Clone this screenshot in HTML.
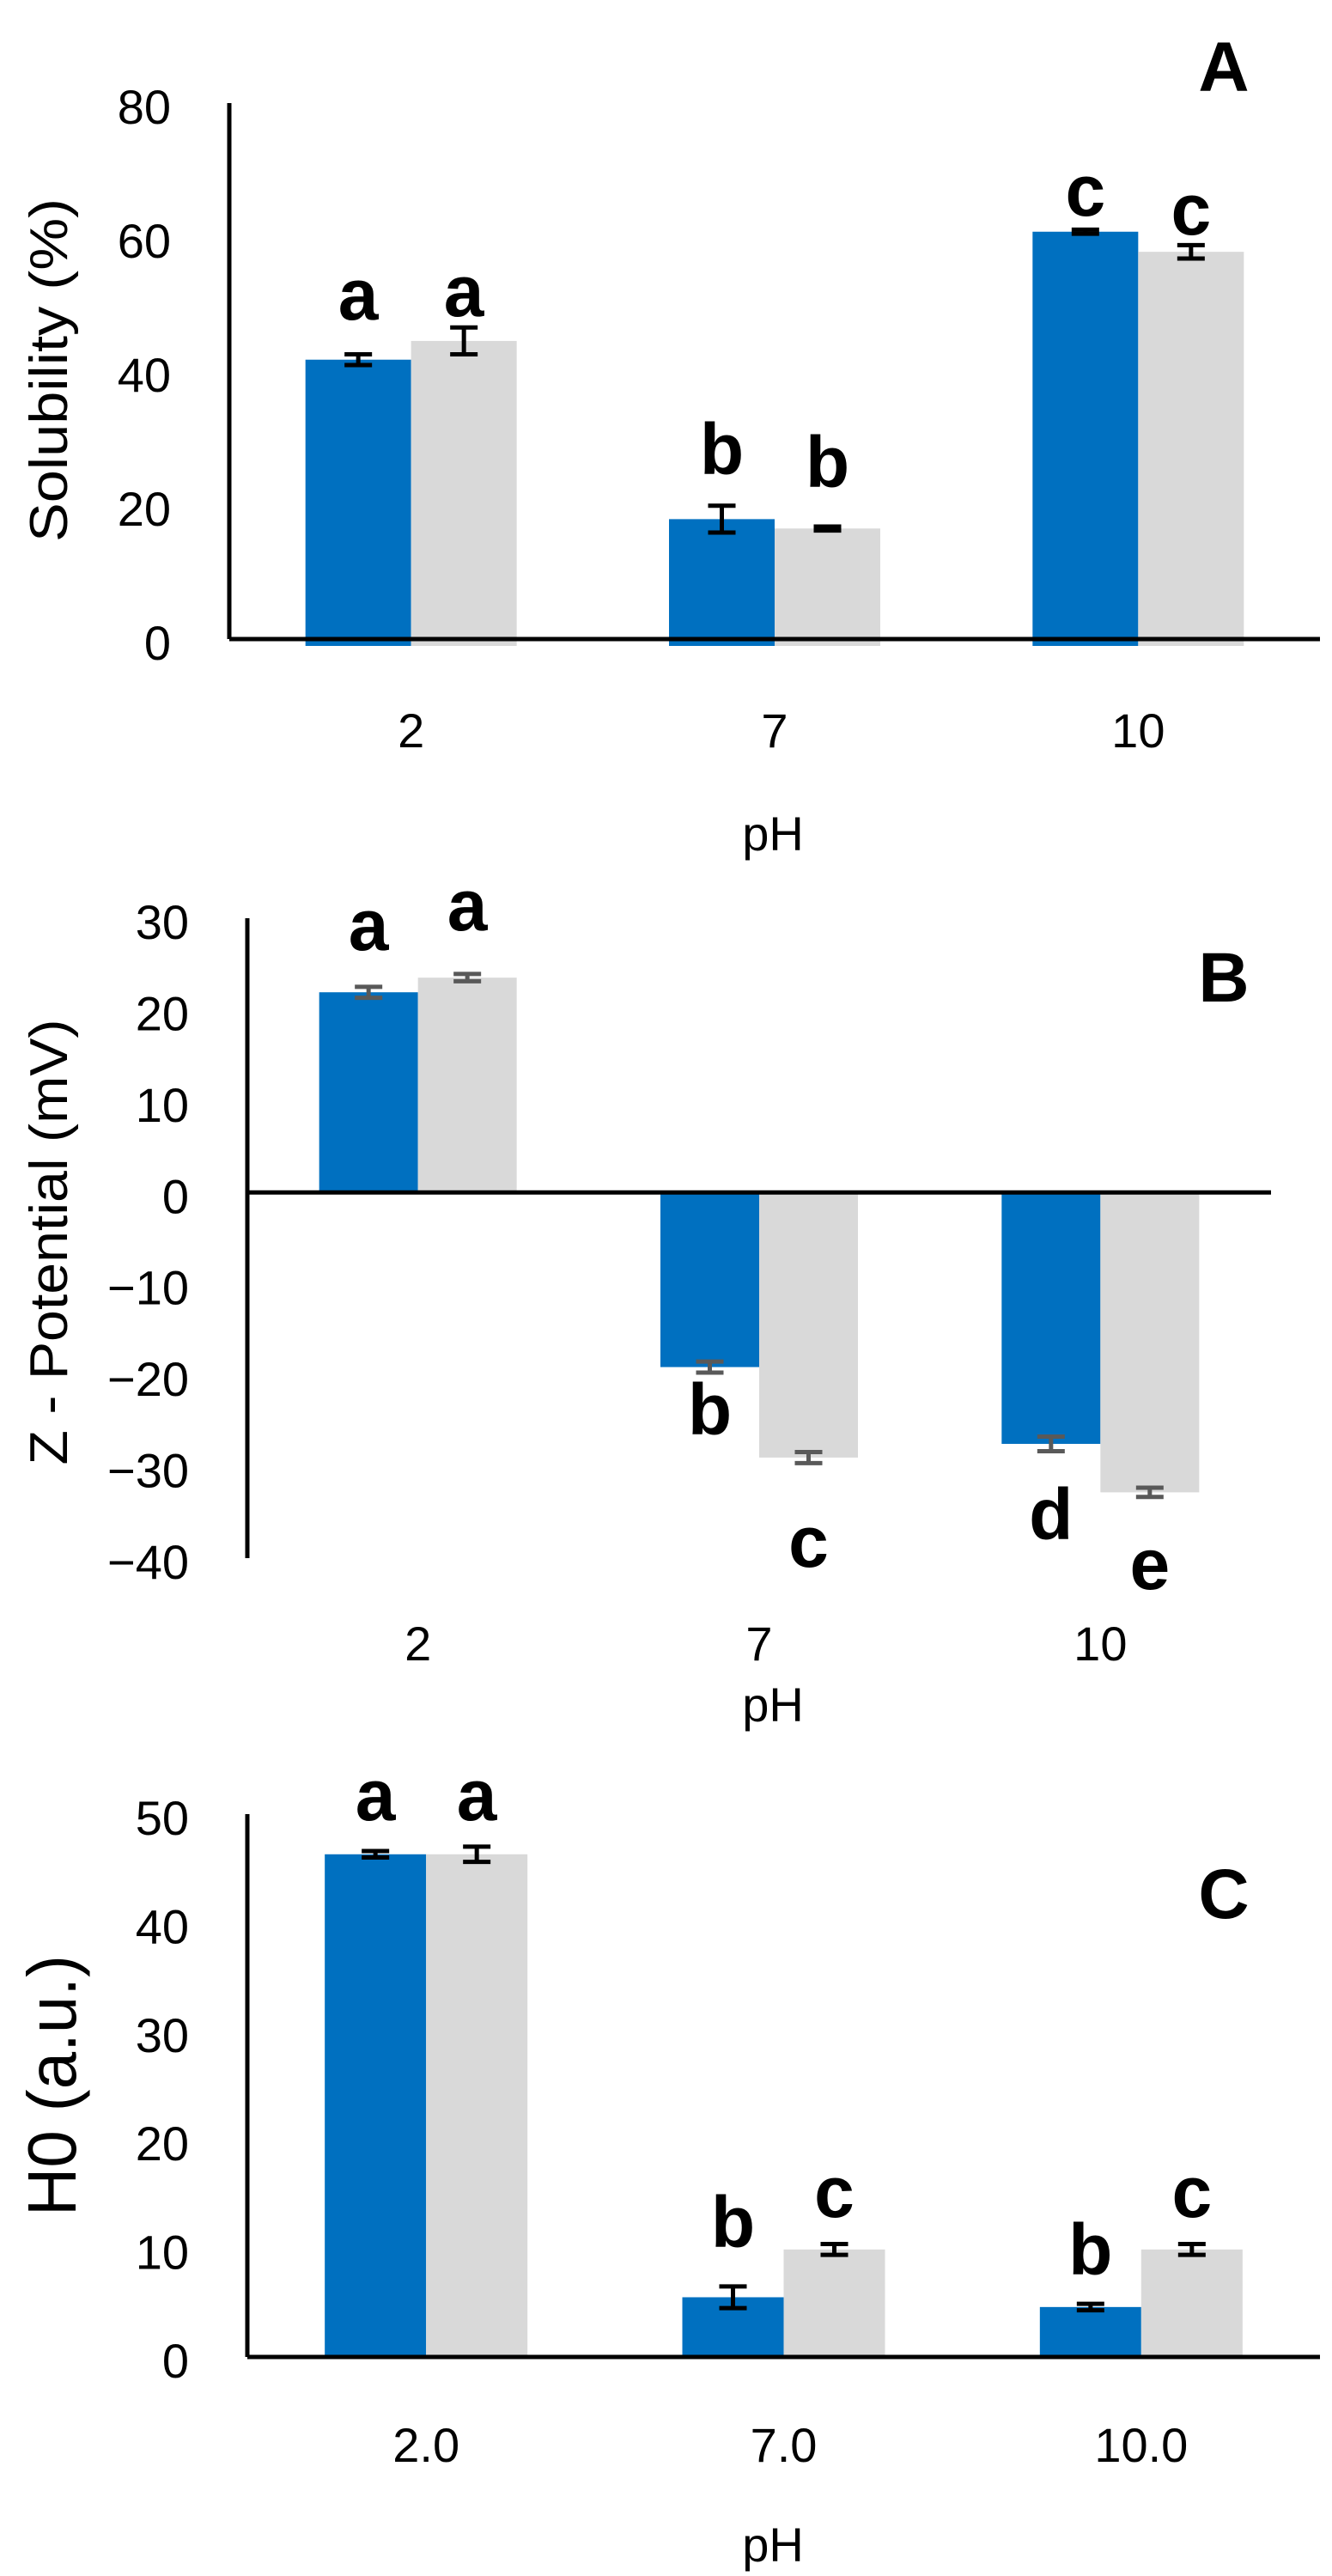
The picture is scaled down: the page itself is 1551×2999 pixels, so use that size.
<!DOCTYPE html>
<html><head><meta charset="utf-8"><style>
html,body{margin:0;padding:0;background:#fff}
svg{display:block}
text{font-family:"Liberation Sans",sans-serif;fill:#000}
.tick{font-size:56px}
.let{font-size:84px;font-weight:bold}
</style></head><body>
<svg id="fig" width="1551" height="2999" viewBox="0 0 1551 2999" xmlns="http://www.w3.org/2000/svg"></svg>
<script>
// Panel A: solubility
const catsA = ["2","7","10"];
const blueA = [41.7, 17.9, 60.8];
const greyA = [44.5, 16.5, 57.8];
const blueErrA = [0.8, 2.0, 0.3];
const greyErrA = [2.0, 0.3, 1.0];
const blueLetA = ["a","b","c"];
const greyLetA = ["a","b","c"];
const ticksA = [0,20,40,60,80];
// Panel B: zeta potential
const catsB = ["2","7","10"];
const blueB = [21.9, -19.1, -27.5];
const greyB = [23.5, -29.0, -32.8];
const blueErrB = [0.6, 0.6, 0.8];
const greyErrB = [0.4, 0.6, 0.5];
const blueLetB = ["a","b","d"];
const greyLetB = ["a","c","e"];
const ticksB = [-40,-30,-20,-10,0,10,20,30];
// Panel C: H0
const catsC = ["2.0","7.0","10.0"];
const blueC = [46.3, 5.5, 4.6];
const greyC = [46.3, 9.9, 9.9];
const blueErrC = [0.3, 1.0, 0.3];
const greyErrC = [0.7, 0.5, 0.5];
const blueLetC = ["a","b","b"];
const greyLetC = ["a","c","c"];
const ticksC = [0,10,20,30,40,50];

const NS="http://www.w3.org/2000/svg";
const svg=document.getElementById('fig');
function mk(tag,attrs,parent){const e=document.createElementNS(NS,tag);for(const k in attrs)e.setAttribute(k,attrs[k]);(parent||svg).appendChild(e);return e;}

function panel(cfg){
  const g=mk('g',{});
  
  
  const y=v=>cfg.yTop+(cfg.vMax-v)/(cfg.vMax-cfg.vMin)*(cfg.yBot-cfg.yTop);
  const band=(cfg.xR-cfg.xL)/cfg.cats.length;
  const y0=y(0);
  cfg.cats.forEach((c,i)=>{
    const cx=cfg.xL+band*(i+0.5);
    [[cfg.blue,cfg.bErr,'#0070C0',-1,cfg.bLet,'blue'],[cfg.grey,cfg.gErr,'#D9D9D9',0,cfg.gLet,'grey']].forEach(s=>{
      const v=s[0][i],x=cx+s[3]*cfg.bw;
      const top=Math.min(y(v),y0),bot=Math.max(y(v),y0)+(v>0?cfg.under:0);
      const r=mk('rect',{x:x,y:top,width:cfg.bw,height:bot-top,fill:s[2]},g);
      
      
      const ex=x+cfg.bw/2,e=s[1][i],cap=16;
      const ey1=y(v+e),ey2=y(v-e);
      const eg=mk('g',{stroke:cfg.errCol,'stroke-width':5},g);
      
      
      mk('line',{x1:ex,x2:ex,y1:ey1,y2:ey2},eg);
      mk('line',{x1:ex-cap,x2:ex+cap,y1:ey1,y2:ey1},eg);
      mk('line',{x1:ex-cap,x2:ex+cap,y1:ey2,y2:ey2},eg);
      const lp=cfg.letPos[s[5]][i];
      const t=mk('text',{x:ex,y:lp,'text-anchor':'middle','class':'let'},g);
      t.textContent=s[4][i];
      
      
    });
    const xt=mk('text',{x:cx,y:cfg.xLabY,'text-anchor':'middle','class':'tick'},g);
    xt.textContent=c;
    
    
  });
  cfg.ticks.forEach(t=>{
    const tl=mk('text',{x:cfg.xL-68,y:y(t)+24,'text-anchor':'end','class':'tick'},g);
    tl.textContent=t<0?'\u2212'+Math.abs(t):String(t);
    
    
  });
  const ya=mk('line',{x1:cfg.xL,x2:cfg.xL,y1:cfg.yTop,y2:cfg.yBot,stroke:'#000','stroke-width':5},g);
  
  
  const xa=mk('line',{x1:cfg.xL,x2:cfg.xR,y1:y0,y2:y0,stroke:'#000','stroke-width':5},g);
  
  
  const xt=mk('text',{x:900,y:cfg.pHY,'text-anchor':'middle','class':'tick'},g);
  xt.textContent='pH';
  
  
  const yt=mk('text',{x:0,y:0,'text-anchor':'middle',transform:'translate('+cfg.yTitle[0]+','+cfg.yTitle[1]+') rotate(-90)','font-size':cfg.yTitle[3],textLength:cfg.yTitle[2],lengthAdjust:'spacingAndGlyphs'},g);
  yt.textContent=cfg.title;
  
  
  const pl=mk('text',{x:1425,y:cfg.panelY,'text-anchor':'middle','font-size':82,'font-weight':'bold'},g);
  pl.textContent=cfg.label;
  
  
}

panel({name:'panel-a-solubility',cats:catsA,blue:blueA,grey:greyA,bErr:blueErrA,gErr:greyErrA,bLet:blueLetA,gLet:greyLetA,ticks:ticksA,
  vMin:0,vMax:80,yTop:120,yBot:744,xL:267,xR:1537,bw:123,under:8,errCol:'#000',
  letPos:{blue:[372,552,251],grey:[368,567,273]},xLabY:870,pHY:990,yTitle:[78,431,400,62],title:'Solubility (%)',label:'A',panelY:106});
panel({name:'panel-b-zeta-potential',cats:catsB,blue:blueB,grey:greyB,bErr:blueErrB,gErr:greyErrB,bLet:blueLetB,gLet:greyLetB,ticks:ticksB,
  vMin:-40,vMax:30,yTop:1069,yBot:1814,xL:288,xR:1480,bw:115,under:0,errCol:'#595959',
  letPos:{blue:[1106,1670,1792],grey:[1083,1824,1850]},xLabY:1933,pHY:2004,yTitle:[78,1446,519,62],title:'Z - Potential (mV)',label:'B',panelY:1166});
panel({name:'panel-c-h0',cats:catsC,blue:blueC,grey:greyC,bErr:blueErrC,gErr:greyErrC,bLet:blueLetC,gLet:greyLetC,ticks:ticksC,
  vMin:0,vMax:50,yTop:2112,yBot:2744,xL:288,xR:1537,bw:118,under:0,errCol:'#000',
  letPos:{blue:[2119,2616,2648],grey:[2119,2581,2581]},xLabY:2866,pHY:2982,yTitle:[88,2428,304,80],title:'H0 (a.u.)',label:'C',panelY:2233});
</script>
</body></html>
